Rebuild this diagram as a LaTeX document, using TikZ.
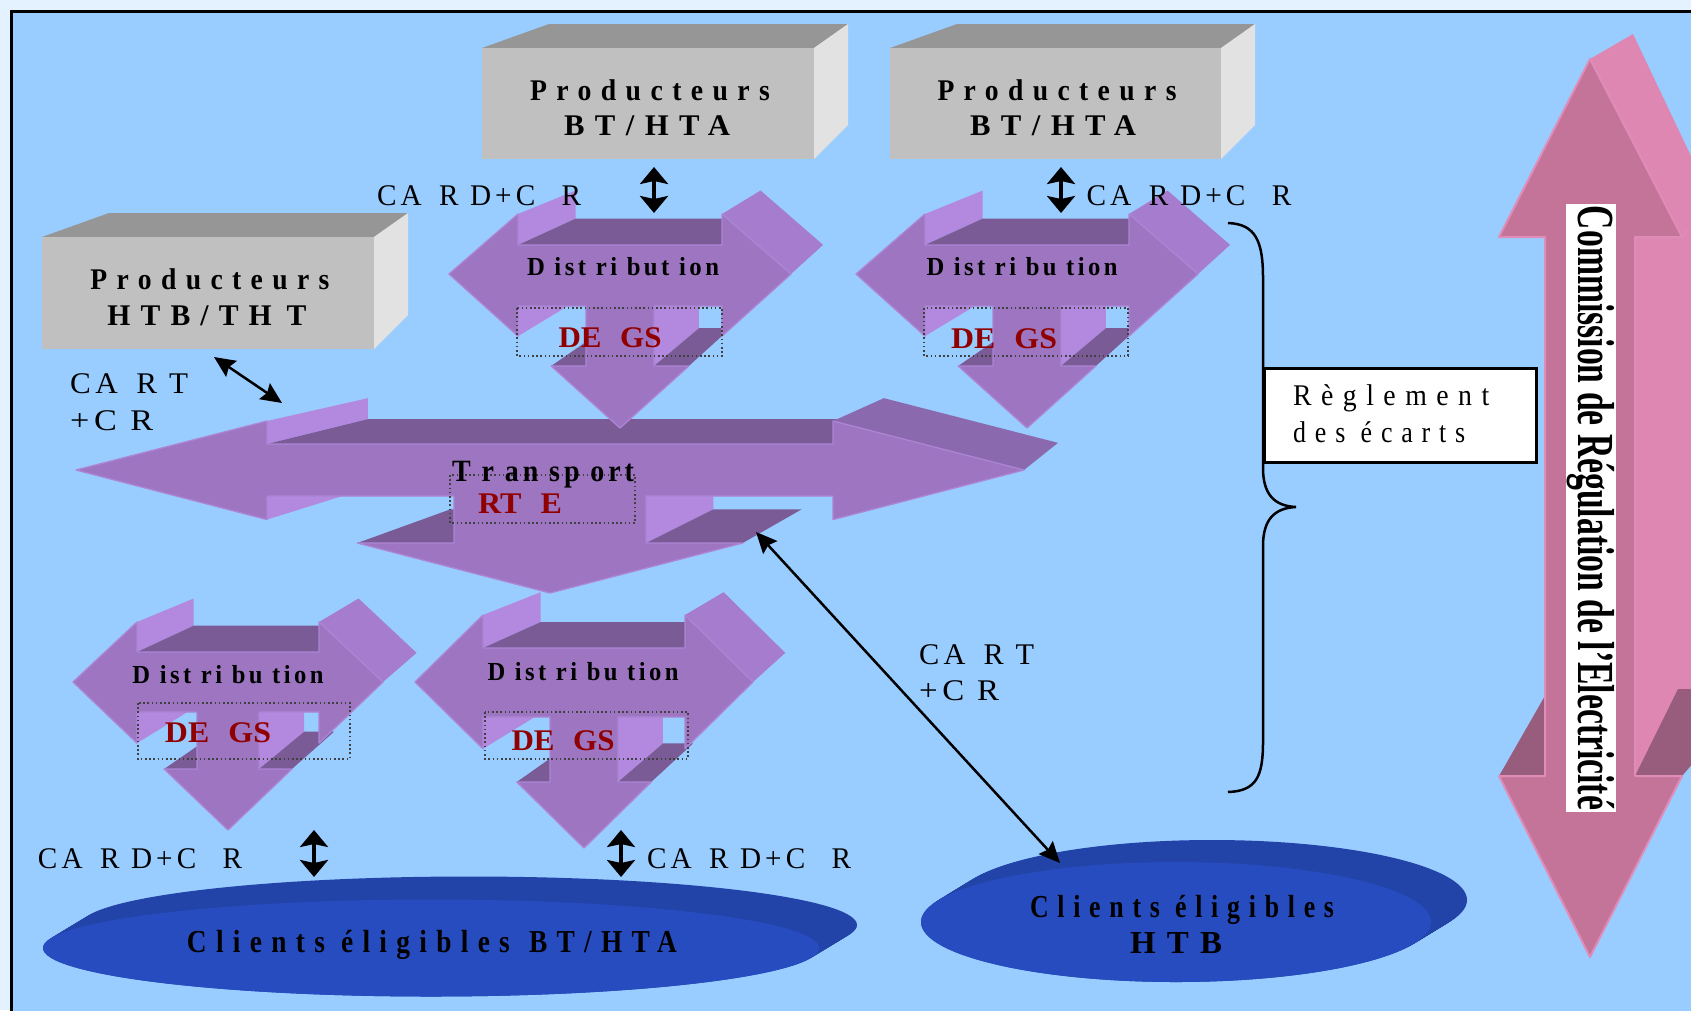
\documentclass[tikz,border=0pt]{standalone}
\usepackage{fontspec}
\setmainfont{Liberation Serif}
\newfontfamily\trk{Liberation Serif}[LetterSpace=34]
\newfontfamily\trks{Liberation Serif}[LetterSpace=14]
\usetikzlibrary{calc,arrows.meta}
\definecolor{bgblue}{HTML}{99CCFF}
\definecolor{outer}{HTML}{E4F1FF}
\definecolor{pfront}{HTML}{9D75C1}
\definecolor{plight}{HTML}{B388DF}
\definecolor{pdark}{HTML}{7B5B96}
\definecolor{pside}{HTML}{A67CCF}
\definecolor{pside2}{HTML}{8B69AE}
\definecolor{pedge}{HTML}{AC85D5}
\definecolor{gfront}{HTML}{C0C0C0}
\definecolor{gtop}{HTML}{969696}
\definecolor{gside}{HTML}{E2E2E2}
\definecolor{efront}{HTML}{264CC0}
\definecolor{eside}{HTML}{2243A8}
\definecolor{kfront}{HTML}{C47498}
\definecolor{kside}{HTML}{DE87B2}
\definecolor{kdark}{HTML}{985C7D}
\definecolor{kedge}{HTML}{E08CB8}
\definecolor{dred}{HTML}{900000}
\newcommand\fitw[2]{\resizebox{#1pt}{\height}{#2}}
\newcommand\fB[1]{\trk\bfseries\fontsize{#1}{#1}\selectfont}
\newcommand\fBs[1]{\trks\bfseries\fontsize{#1}{#1}\selectfont}
\newcommand\fR[1]{\trks\mdseries\fontsize{#1}{#1}\selectfont}
\newcommand\fRt[1]{\trk\mdseries\fontsize{#1}{#1}\selectfont}
% three-way arrow parameters
\newcommand\twset[6]{\def\twcx{#1}\def\twyl{#2}\def\twhw{#3}\def\twbx{#4}\def\twht{#5}\def\twbt{#6}}
\newcommand\twsetb[7]{\def\twbb{#1}\def\twch{#2}\def\twdb{#3}\def\twtp{#4}\def\twvx{#5}\def\twvy{#6}\def\twk{#7}}
\newcommand\drawtw[2]{%
 \pgfmathsetmacro\twhy{\twyl+\twtp*(1-\twbx/\twhw)}%
 \pgfmathsetmacro\twdx{\twhw*(1-\twdb/\twtp)}%
 \coordinate (#1-L) at ({\twcx-\twhw},{\twyl});
 \coordinate (#1-R) at ({\twcx+\twhw},{\twyl});
 \coordinate (#1-T) at ({\twcx},{\twyl+\twtp});
 \coordinate (#1-HLt) at ({\twcx-\twbx},{\twyl+\twht});
 \coordinate (#1-BTL) at ({\twcx-\twbx},{\twyl+\twbt});
 \coordinate (#1-BTR) at ({\twcx+\twbx},{\twyl+\twbt});
 \coordinate (#1-HRt) at ({\twcx+\twbx},{\twyl+\twht});
 \coordinate (#1-HRb) at ({\twcx+\twbx},{\twhy});
 \coordinate (#1-BBR) at ({\twcx+\twbx},{\twyl+\twbb});
 \coordinate (#1-CRt) at ({\twcx+\twch},{\twyl+\twbb});
 \coordinate (#1-CRb) at ({\twcx+\twch},{\twyl+\twdb});
 \coordinate (#1-DR) at ({\twcx+\twdx},{\twyl+\twdb});
 \coordinate (#1-DL) at ({\twcx-\twdx},{\twyl+\twdb});
 \coordinate (#1-CLb) at ({\twcx-\twch},{\twyl+\twdb});
 \coordinate (#1-CLt) at ({\twcx-\twch},{\twyl+\twbb});
 \coordinate (#1-BBL) at ({\twcx-\twbx},{\twyl+\twbb});
 \coordinate (#1-HLb) at ({\twcx-\twbx},{\twhy});
 \coordinate (#1-V) at ({\twcx+\twvx},{\twyl+\twvy});
 \foreach \p in {HLt,BTL,BTR,HRt,R,BBL,HLb,DL,CLb,CRt,CRb,DR}{\coordinate (#1-b\p) at ($(#1-\p)!\twk!(#1-V)$);}
 \fill[plight] (#1-HLt) -- (#1-BTL) -- (#1-bBTL) -- (#1-bHLt) -- cycle;
 \fill[pdark] (#1-BTL) -- (#1-BTR) -- (#1-bBTR) -- (#1-bBTL) -- cycle;
 \fill[#2] (#1-HRt) -- (#1-R) -- (#1-bR) -- (#1-bHRt) -- cycle;
 \fill[plight] (#1-BBL) -- (#1-HLb) -- (#1-bHLb) -- (#1-bBBL) -- cycle;
 \fill[pdark] (#1-DL) -- (#1-CLb) -- (#1-bCLb) -- (#1-bDL) -- cycle;
 \fill[plight] (#1-CRt) -- (#1-CRb) -- (#1-bCRb) -- (#1-bCRt) -- cycle;
 \fill[pdark] (#1-CRb) -- (#1-DR) -- (#1-bDR) -- (#1-bCRb) -- cycle;
 \filldraw[fill=pfront, draw=pedge, line width=1.3pt, line join=round] (#1-L) -- (#1-HLt) -- (#1-BTL) -- (#1-BTR) -- (#1-HRt) -- (#1-R) -- (#1-HRb) -- (#1-BBR) -- (#1-CRt) -- (#1-CRb) -- (#1-DR) -- (#1-T) -- (#1-DL) -- (#1-CLb) -- (#1-CLt) -- (#1-BBL) -- (#1-HLb) -- cycle;
}
\newcommand\pbox[5]{% name, x0, y0, x1, y1
 \fill[gtop] (#2,#3) -- ({#2+67},{#3-24}) -- ({#4+34},{#3-24}) -- (#4,#3) -- cycle;
 \fill[gside] (#4,#3) -- ({#4+34},{#3-24}) -- ({#4+34},{#5-34}) -- (#4,#5) -- cycle;
 \fill[gfront] (#2,#3) rectangle (#4,#5);
 \coordinate (#1) at ({(#2+#4)/2},{(#3+#5)/2});
}
\newcommand\disc[6]{% cx cy rx ry dx dy
 \foreach \i in {0,...,24}{\fill[eside] ({#1+#5*(1-\i/24)},{#2+#6*(1-\i/24)}) ellipse [x radius=#3, y radius=#4];}
 \fill[efront] (#1,#2) ellipse [x radius=#3, y radius=#4];
}
\tikzset{
 txt/.style={inner sep=0pt, anchor=base},
 txtw/.style={inner sep=0pt, anchor=base west},
 dotbox/.style={draw=black!75, line width=1.6pt, dash pattern=on 1.6pt off 2.6pt},
 dblv/.style={line width=3.5pt, {Stealth[length=17pt,width=28pt,inset=3pt]}-{Stealth[length=17pt,width=28pt,inset=3pt]}},
 dbld/.style={line width=2.5pt, {Stealth[length=21pt,width=19pt,inset=3pt]}-{Stealth[length=21pt,width=19pt,inset=3pt]}},
}
\begin{document}
\begin{tikzpicture}[x=1pt,y=-1pt]
\useasboundingbox (0,0) rectangle (1691,1010);
\clip (0,0) rectangle (1691,1010);
% background
\fill[outer] (0,0) rectangle (1691,1010);
\fill[bgblue] (11,11) rectangle (1700,1020);
\draw[line width=3pt] (1700,11) -- (11,11) -- (11,1020);

% pink double arrow (CRE)
\fill[kside] (1590,59) -- (1633,34) -- (1700,175) -- (1700,700) -- (1635,776) -- (1635,237) -- cycle;
\draw[kedge, line width=1.5pt] (1682,237) -- (1700,216);
\fill[kdark] (1499,776) -- (1550,687) -- (1550,776) -- cycle;
\fill[kdark] (1635,776) -- (1678,689) -- (1700,689) -- (1700,755) -- (1682,776) -- cycle;
\filldraw[fill=kfront, draw=kedge, line width=2pt, line join=round] (1590,59) -- (1682,237) -- (1635,237) -- (1635,776) -- (1682,776) -- (1590,957) -- (1499,776) -- (1545,776) -- (1545,237) -- (1499,237) -- cycle;
\fill[white] (1566,204) rectangle (1616,812);
\node[inner sep=0pt, anchor=base, rotate=-90, font=\rmfamily\bfseries\fontsize{52}{52}\selectfont] (cre) at (1578,508) {\fitw{604}{Commission de Régulation de l'Electricité}};

% Transport
\twset{550}{470}{474}{283}{-49}{-26}
\twsetb{26}{96}{73}{123}{858}{-307}{0.0885}
\drawtw{TR}{pside2}

% Distribution shapes
\twset{620}{274}{171}{102}{-60}{-29}
\twsetb{32}{34}{92}{154}{512}{-310}{0.094}
\drawtw{D1}{pside}
\twset{1027}{274}{171}{102}{-60}{-29}
\drawtw{D2}{pside}
\twset{228}{682}{155}{91}{-60}{-30}
\twsetb{30}{31}{87}{148}{512}{-310}{0.094}
\drawtw{D3}{pside}
\twset{584}{682}{169}{101}{-67}{-34}
\twsetb{35}{34}{100}{166}{512}{-310}{0.094}
\drawtw{D4}{pside}

% producer boxes
\pbox{P1}{482}{48}{814}{159}
\pbox{P2}{890}{48}{1221}{159}
\pbox{P3}{42}{237}{374}{349}

% client discs
\disc{431}{948}{388}{48.5}{38}{-23}
\coordinate (E1) at (431,948);
\disc{1176}{922}{255}{60}{36}{-22}
\coordinate (E2) at (1176,922);

% dotted boxes
\draw[dotbox] (517,308) rectangle (722,356);
\draw[dotbox] (924,308) rectangle (1128,356);
\draw[dotbox] (138,703) rectangle (350,759);
\draw[dotbox] (485,712) rectangle (688,759);
\draw[dotbox] (450,475) rectangle (635,523);

% texts in producer boxes
\node[txt, font=\fB{30}] (p1a) at (650,100) {\fitw{240}{Producteurs}};
\node[txt, font=\fB{30}] (p1b) at (647,135) {\fitw{166}{BT/HTA}};
\node[txt, font=\fB{30}] (p2a) at (1057,100) {\fitw{239}{Producteurs}};
\node[txt, font=\fB{30}] (p2b) at (1053,135) {\fitw{166}{BT/HTA}};
\node[txt, font=\fB{30}] (p3a) at (210,289) {\fitw{239}{Producteurs}};
\node[txt, font=\fB{30}] (p3b) at (207,325) {\fitw{199}{HTB/TH\hspace{0.5em}T}};

% distribution texts
\node[txt, font=\fBs{26}] (d1t) at (623,275) {\fitw{192}{D ist ri but ion}};
\node[txt, font=\fBs{26}] (d2t) at (1022,275) {\fitw{191}{D ist ri bu tion}};
\node[txt, font=\fBs{26}] (d3t) at (228,683) {\fitw{191}{D ist ri bu tion}};
\node[txt, font=\fBs{26}] (d4t) at (583,680) {\fitw{191}{D ist ri bu tion}};
\node[txt, font=\rmfamily\bfseries\fontsize{30}{30}\selectfont, text=dred] (d1g) at (610,347) {\fitw{103}{DE\hspace{0.6em}GS}};
\node[txt, font=\rmfamily\bfseries\fontsize{30}{30}\selectfont, text=dred] (d2g) at (1004,348) {\fitw{106}{DE\hspace{0.6em}GS}};
\node[txt, font=\rmfamily\bfseries\fontsize{30}{30}\selectfont, text=dred] (d3g) at (218,742) {\fitw{106}{DE\hspace{0.6em}GS}};
\node[txt, font=\rmfamily\bfseries\fontsize{30}{30}\selectfont, text=dred] (d4g) at (563,750) {\fitw{103}{DE\hspace{0.6em}GS}};

% transport texts
\node[txt, font=\fBs{31}] (trt) at (543,481) {\fitw{182}{T r an sp ort}};
\node[txt, font=\rmfamily\bfseries\fontsize{30}{30}\selectfont, text=dred] (trg) at (520,513) {\fitw{84}{RT\hspace{0.6em}E}};

% client texts
\node[txt, font=\fB{32}] (e1t) at (432,952) {\fitw{490}{Clients éligibles\hspace{0.7em}BT/HTA}};
\node[txt, font=\fB{32}] (e2a) at (1182,917) {\fitw{304}{Clients éligibles}};
\node[txt, font=\fB{32}] (e2b) at (1176,953) {\fitw{92}{HTB}};

% tariff labels
\node[txt, font=\fR{30}] (l1) at (479,205) {\fitw{204}{CA\hspace{0.6em}R D+C\hspace{0.9em}R}};
\node[txt, font=\fR{30}] (l2) at (1189,205) {\fitw{205}{CA\hspace{0.6em}R D+C\hspace{0.9em}R}};
\node[txtw, font=\fR{30}] (l3a) at (70,393) {\fitw{118}{CA\hspace{0.6em}R T}};
\node[txtw, font=\fR{30}] (l3b) at (70,430) {\fitw{83}{+C R}};
\node[txtw, font=\fR{30}] (l4a) at (919,664) {\fitw{115}{CA\hspace{0.6em}R T}};
\node[txtw, font=\fR{30}] (l4b) at (919,700) {\fitw{80}{+C R}};
\node[txt, font=\fR{30}] (l5) at (140,868) {\fitw{204}{CA\hspace{0.6em}R D+C\hspace{0.9em}R}};
\node[txt, font=\fR{30}] (l6) at (749,868) {\fitw{204}{CA\hspace{0.6em}R D+C\hspace{0.9em}R}};

% arrows
\coordinate (a1s) at (654,167); \coordinate (a1e) at (654,213);
\coordinate (a2s) at (1061,167); \coordinate (a2e) at (1061,213);
\coordinate (a3s) at (214,357); \coordinate (a3e) at (282,403);
\coordinate (a4s) at (756,532); \coordinate (a4e) at (1060,863);
\coordinate (a5s) at (314,830); \coordinate (a5e) at (314,877);
\coordinate (a6s) at (621,830); \coordinate (a6e) at (621,877);
\draw[dblv] (a1s) -- (a1e);
\draw[dblv] (a2s) -- (a2e);
\draw[dblv] (a5s) -- (a5e);
\draw[dblv] (a6s) -- (a6e);
\draw[dbld] (a3s) -- (a3e);
\draw[dbld] (a4s) -- (a4e);

% brace
\coordinate (brt) at (1228,223);
\coordinate (brm) at (1296,507);
\coordinate (brb) at (1228,792);
\draw[line width=2.5pt] (brt) .. controls (1256,224) and (1263,242) .. (1263,278) -- (1263,468) .. controls (1263,494) and (1274,506) .. (brm) .. controls (1274,508) and (1263,520) .. (1263,546) -- (1263,742) .. controls (1263,777) and (1256,791) .. (brb);

% reglement box
\node[draw, fill=white, line width=2.5pt, minimum width=272pt, minimum height=94pt, inner sep=0pt, anchor=north west] (reg) at (1263,367) {};
\node[txtw, font=\fRt{30}] (rg1) at (1293,405) {\fitw{196}{Règlement}};
\node[txtw, font=\fRt{30}] (rg2) at (1293,442) {\fitw{172}{des écarts}};
\end{tikzpicture}
\end{document}
